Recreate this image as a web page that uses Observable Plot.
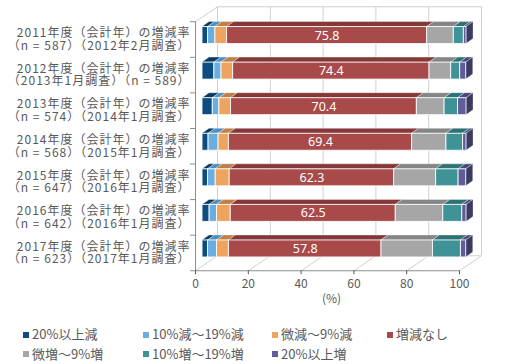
<!DOCTYPE html>
<html><head><meta charset="utf-8">
<script src="https://cdn.jsdelivr.net/npm/d3@7"></script>
<script src="https://cdn.jsdelivr.net/npm/@observablehq/plot@0.6"></script>
<style>
body{margin:0;background:#fff;font-family:"Noto Sans CJK JP","Noto Sans",sans-serif;}
#wrap{position:relative;width:505px;height:364px;overflow:hidden;}
#chart{position:absolute;left:0;top:0;}
.lg{position:absolute;font-size:13px;color:#595959;white-space:nowrap;line-height:14px;}
.sw{position:absolute;width:6px;height:6px;}
</style></head><body><div id="wrap"><div id="chart"></div></div>
<script>
// ---- data ----
const yearLabels = [
  "2011年度（会計年）の増減率",
  "2012年度（会計年）の増減率",
  "2013年度（会計年）の増減率",
  "2014年度（会計年）の増減率",
  "2015年度（会計年）の増減率",
  "2016年度（会計年）の増減率",
  "2017年度（会計年）の増減率"
];
const surveyLabels = [
  "（n = 587）（2012年2月調査）",
  "（2013年1月調査）（n = 589）",
  "（n = 574）（2014年1月調査）",
  "（n = 568）（2015年1月調査）",
  "（n = 647）（2016年1月調査）",
  "（n = 642）（2016年1月調査）",
  "（n = 623）（2017年1月調査）"
];
const seriesNames = ["20%以上減","10%減～19%減","微減～9%減","増減なし","微増～9%増","10%増～19%増","20%以上増"];
const down20   = [2.1, 4.5, 3.9, 2.3, 2.1, 2.7, 2.1];
const down10   = [2.8, 2.7, 2.5, 3.8, 2.9, 2.8, 3.4];
const downS    = [4.4, 4.4, 4.4, 3.9, 5.3, 5.2, 4.5];
const flat     = [75.8, 74.4, 70.4, 69.4, 62.3, 62.5, 57.8];
const upS      = [10.1, 8.2, 10.5, 13.0, 15.9, 18.0, 19.5];
const up10     = [3.8, 3.4, 5.1, 6.3, 8.5, 7.2, 10.6];
const up20     = [1.0, 2.3, 3.2, 1.3, 2.9, 1.6, 2.0];
const xTicks = [0, 20, 40, 60, 80, 100];
const axisUnit = "(%)";

// ---- style ----
const frontColors = ["#0d4c80","#6aaee0","#eea35e","#a84a49","#a6a6a6","#3f9296","#5f5d9a"];
const topColors   = ["#0a3a62","#4d8fbf","#c07f45","#853838","#858585","#2e7276","#4a4879"];
const sideColor = "#3b3a62";

// ---- layout ----
const W = 505, H = 305;
const mL = 202, mR = 39, mT = 17.25, mB = H - 266.25;
const kx = (W - mL - mR) / 100;      // px per x unit
const ky = (H - mT - mB) / 7;        // px per y unit
const halfH = 8.5 / ky;              // half bar height (units)
const bdx = 7 / kx, bdy = 5 / ky;    // bar depth (units)
const fdx = -7, fdy = 4;             // front plane offset (px)
const bkx = 15, bky = -11;           // back plane offset (px)

const series = [down20, down10, downS, flat, upS, up10, up20];
const rows = [], tops = [], sides = [];
yearLabels.forEach((_, i) => {
  let acc = 0;
  series.forEach((s, j) => {
    const v = s[i];
    const r = {i, j, v, x1: acc, x2: acc + v};
    rows.push(r);
    const yt = i - halfH;
    tops.push({z: i * 10 + j, y: yt, x1: r.x1, x2: r.x2, c: topColors[j]});
    tops.push({z: i * 10 + j, y: yt - bdy, x1: r.x1 + bdx, x2: r.x2 + bdx, c: topColors[j]});
    acc += v;
  });
  sides.push({z: i, x: acc, y1: i + halfH, y2: i - halfH});
  sides.push({z: i, x: acc + bdx, y1: i + halfH - bdy, y2: i - halfH - bdy});
});
const cats = yearLabels.map((t, i) => ({i, t: t + "\n" + surveyLabels[i]}));

const gridC = "#d0d0d0", axisC = "#8c8c8c", textC = "#595959";
const yTop = -0.5, yBot = 6.5;
const floorLinks = xTicks.map(t => ({x1: t + fdx / kx, y1: yBot + fdy / ky, x2: t + bkx / kx, y2: yBot + bky / ky}));
const wallLink = [{x1: fdx / kx, y1: yTop + fdy / ky, x2: bkx / kx, y2: yTop + bky / ky}];
const boundaries = d3.range(8).map(k => k - 0.5);

const chart = Plot.plot({
  width: W, height: H,
  marginLeft: mL, marginRight: mR, marginTop: mT, marginBottom: mB,
  x: {domain: [0, 100], axis: null},
  y: {domain: [yTop, yBot], reverse: true, axis: null},
  color: {type: "identity"},
  style: {fontFamily: "'Noto Sans CJK JP','Noto Sans',sans-serif", background: "#fff", overflow: "visible"},
  marks: [
    // back wall
    Plot.ruleX(xTicks, {y1: yTop, y2: yBot, dx: bkx, dy: bky, stroke: gridC}),
    Plot.ruleY([yTop], {x1: 0, x2: 100, dx: bkx, dy: bky, stroke: gridC}),
    // floor
    Plot.ruleY([yBot], {x1: 0, x2: 100, dx: bkx, dy: bky, stroke: gridC}),
    Plot.link(floorLinks, {x1: "x1", y1: "y1", x2: "x2", y2: "y2", stroke: gridC}),
    Plot.link(wallLink, {x1: "x1", y1: "y1", x2: "x2", y2: "y2", stroke: gridC}),
    // front axes
    Plot.ruleY([yBot], {x1: 0, x2: 100, dx: fdx, dy: fdy, stroke: axisC}),
    Plot.ruleX([0], {y1: yTop, y2: yBot, dx: fdx, dy: fdy, stroke: axisC}),
    Plot.ruleY(boundaries, {x1: -5 / kx, x2: 0, dx: fdx, dy: fdy, stroke: axisC}),
    Plot.axisX({ticks: xTicks, tickSize: 4, tickPadding: 5, dx: fdx, dy: fdy, fontSize: 12, color: textC, label: null}),
    Plot.text([axisUnit], {x: 50, frameAnchor: "bottom", dx: -3, dy: 32, fontSize: 12, fill: textC, lineAnchor: "middle"}),
    // bars: top faces, side faces, front faces
    Plot.areaX(tops, {y: "y", x1: "x1", x2: "x2", z: "z", fill: "c", stroke: "#ffffff", strokeWidth: 0.6, strokeOpacity: 0.6}),
    Plot.areaY(sides, {x: "x", y1: "y1", y2: "y2", z: "z", fill: sideColor, stroke: "#ffffff", strokeWidth: 0.6, strokeOpacity: 0.5}),
    Plot.rect(rows, {x1: "x1", x2: "x2", y1: d => d.i - halfH, y2: d => d.i + halfH, fill: d => frontColors[d.j], stroke: "#ffffff", strokeWidth: 1, strokeOpacity: 0.85}),
    Plot.text(rows.filter(d => d.j === 3), {x: d => (d.x1 + d.x2) / 2, y: "i", text: d => d.v.toFixed(1), fill: "#ffffff", fontSize: 12.5, fontFamily: "'Noto Sans',sans-serif"}),
    // category labels
    Plot.text(cats, {x: 0, y: "i", text: "t", textAnchor: "end", dx: -12, dy: 4, lineHeight: 1.05, fontSize: 12, fill: textC})
  ]
});
// slight letter spacing on the category labels
const textGroups = chart.querySelectorAll('g[aria-label="text"]');
d3.select(textGroups[textGroups.length - 1]).selectAll("text").style("letter-spacing", "1px");
document.getElementById("chart").appendChild(chart);

// legend
const wrap = document.getElementById("wrap");
const colX = [23, 143, 272, 387];
const rowY = [334.5, 354];
seriesNames.forEach((name, j) => {
  const c = j % 4, r = Math.floor(j / 4);
  const sw = document.createElement("div");
  sw.className = "sw";
  sw.style.left = colX[c] + "px";
  sw.style.top = (rowY[r] - 3) + "px";
  sw.style.background = frontColors[j];
  wrap.appendChild(sw);
  const t = document.createElement("div");
  t.className = "lg";
  t.textContent = name;
  t.style.left = (colX[c] + 9) + "px";
  t.style.top = (rowY[r] - 7.5) + "px";
  wrap.appendChild(t);
});
</script></body></html>
